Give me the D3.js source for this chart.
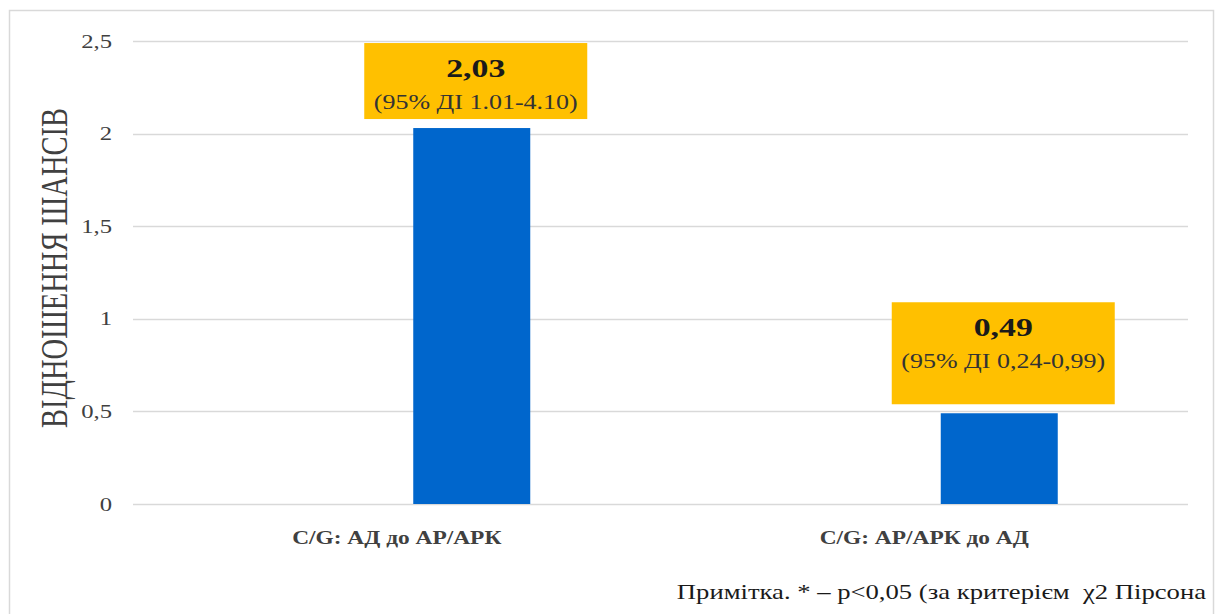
<!DOCTYPE html>
<html>
<head>
<meta charset="utf-8">
<script src="https://cdn.jsdelivr.net/npm/d3@7"></script>
<style>
  body { margin: 0; background: #fff; }
</style>
</head>
<body>
<div id="chart"></div>
<script>
// Chart data
const categories = ['C/G: АД до АР/АРК', 'C/G: АР/АРК до АД'];
const oddsRatios = [2.03, 0.49];
const valueLabels = ['2,03', '0,49'];
const ciLabels = ['(95% ДІ 1.01-4.10)', '(95% ДІ 0,24-0,99)'];
const yTicks = [0, 0.5, 1, 1.5, 2, 2.5];
const yTickLabels = ['0', '0,5', '1', '1,5', '2', '2,5'];

const serif = "'Liberation Serif', 'Times New Roman', serif";
const width = 1218, height = 614;
const margin = { top: 41, right: 30, bottom: 110, left: 133 };
// the source picture is stretched sideways, so text is widened to match
const stretch = 1.3;

const svg = d3.select('#chart')
    .append('svg')
    .attr('width', width)
    .attr('height', height)
    .style('font-family', serif);

// outer chart border
svg.append('rect')
    .attr('x', 9.5)
    .attr('y', 10.5)
    .attr('width', 1204)
    .attr('height', 640)
    .attr('fill', 'none')
    .attr('stroke', '#d9d9d9')
    .attr('stroke-width', 1.5);

const xScale = d3.scaleBand()
    .domain(categories)
    .range([margin.left, width - margin.right])
    .padding(0);

const yScale = d3.scaleLinear()
    .domain([0, 2.5])
    .range([height - margin.bottom, margin.top]);

// gridlines
svg.append('g')
    .selectAll('line')
    .data(yTicks)
    .enter()
    .append('line')
    .attr('x1', margin.left)
    .attr('x2', width - margin.right)
    .attr('y1', d => Math.round(yScale(d)) + 0.5)
    .attr('y2', d => Math.round(yScale(d)) + 0.5)
    .attr('stroke', '#d9d9d9')
    .attr('stroke-width', 1.5);

// y axis (labels only)
const yAxis = d3.axisLeft(yScale)
    .tickValues(yTicks)
    .tickFormat((d, i) => yTickLabels[i])
    .tickSize(0)
    .tickPadding(21);

const yAxisG = svg.append('g')
    .attr('transform', `translate(${margin.left}, 0)`)
    .call(yAxis)
    .attr('font-family', null)
    .attr('font-size', null);
yAxisG.select('.domain').remove();
yAxisG.selectAll('text')
    .attr('x', -21 / stretch)
    .attr('transform', `scale(${stretch}, 1)`)
    .style('font-family', serif)
    .style('font-size', '19px')
    .attr('fill', '#404040');

// y axis title
svg.append('text')
    .attr('transform', `translate(67, 268) scale(${stretch}, 1) rotate(-90)`)
    .attr('text-anchor', 'middle')
    .style('font-size', '28.5px')
    .attr('fill', '#404040')
    .text('ВІДНОШЕННЯ ШАНСІВ');

// bars sit to the right of each category centre
const barWidth = 117;
const barShift = 75;
const barCenter = d => xScale(d) + xScale.bandwidth() / 2 + barShift;

svg.append('g')
    .selectAll('rect')
    .data(categories)
    .enter()
    .append('rect')
    .attr('x', d => barCenter(d) - barWidth / 2)
    .attr('width', barWidth)
    .attr('y', (d, i) => yScale(oddsRatios[i]))
    .attr('height', (d, i) => yScale(0) - yScale(oddsRatios[i]))
    .attr('fill', '#0066cc');

// category labels
svg.append('g')
    .selectAll('text')
    .data(categories)
    .enter()
    .append('text')
    .attr('transform', d => `translate(${xScale(d) + xScale.bandwidth() / 2}, 544) scale(${stretch}, 1)`)
    .attr('text-anchor', 'middle')
    .style('font-size', '18px')
    .style('font-weight', 'bold')
    .attr('fill', '#404040')
    .text(d => d);

// data label boxes
const boxWidth = 223;
const boxHeights = [76, 102];
const boxGap = 9;

const labels = svg.append('g')
    .selectAll('g')
    .data(categories)
    .enter()
    .append('g')
    .attr('transform', (d, i) => {
        const top = yScale(oddsRatios[i]) - boxGap - boxHeights[i];
        return `translate(${barCenter(d) + 4}, ${top})`;
    });

labels.append('rect')
    .attr('x', -boxWidth / 2)
    .attr('y', 0)
    .attr('width', boxWidth)
    .attr('height', (d, i) => boxHeights[i])
    .attr('fill', '#ffc000');

labels.append('text')
    .attr('transform', `translate(0, 34) scale(${stretch}, 1)`)
    .attr('text-anchor', 'middle')
    .style('font-size', '26px')
    .style('font-weight', 'bold')
    .attr('fill', '#1a1a1a')
    .text((d, i) => valueLabels[i]);

labels.append('text')
    .attr('transform', `translate(0, 66) scale(${stretch}, 1)`)
    .attr('text-anchor', 'middle')
    .style('font-size', '20px')
    .attr('fill', '#333')
    .text((d, i) => ciLabels[i]);

// footnote
svg.append('text')
    .attr('transform', `translate(1206, 599) scale(${stretch}, 1)`)
    .attr('text-anchor', 'end')
    .style('font-size', '20.5px')
    .style('white-space', 'pre')
    .attr('fill', '#1a1a1a')
    .text('Примітка. * – p<0,05 (за критерієм  χ2 Пірсона');
</script>
</body>
</html>
